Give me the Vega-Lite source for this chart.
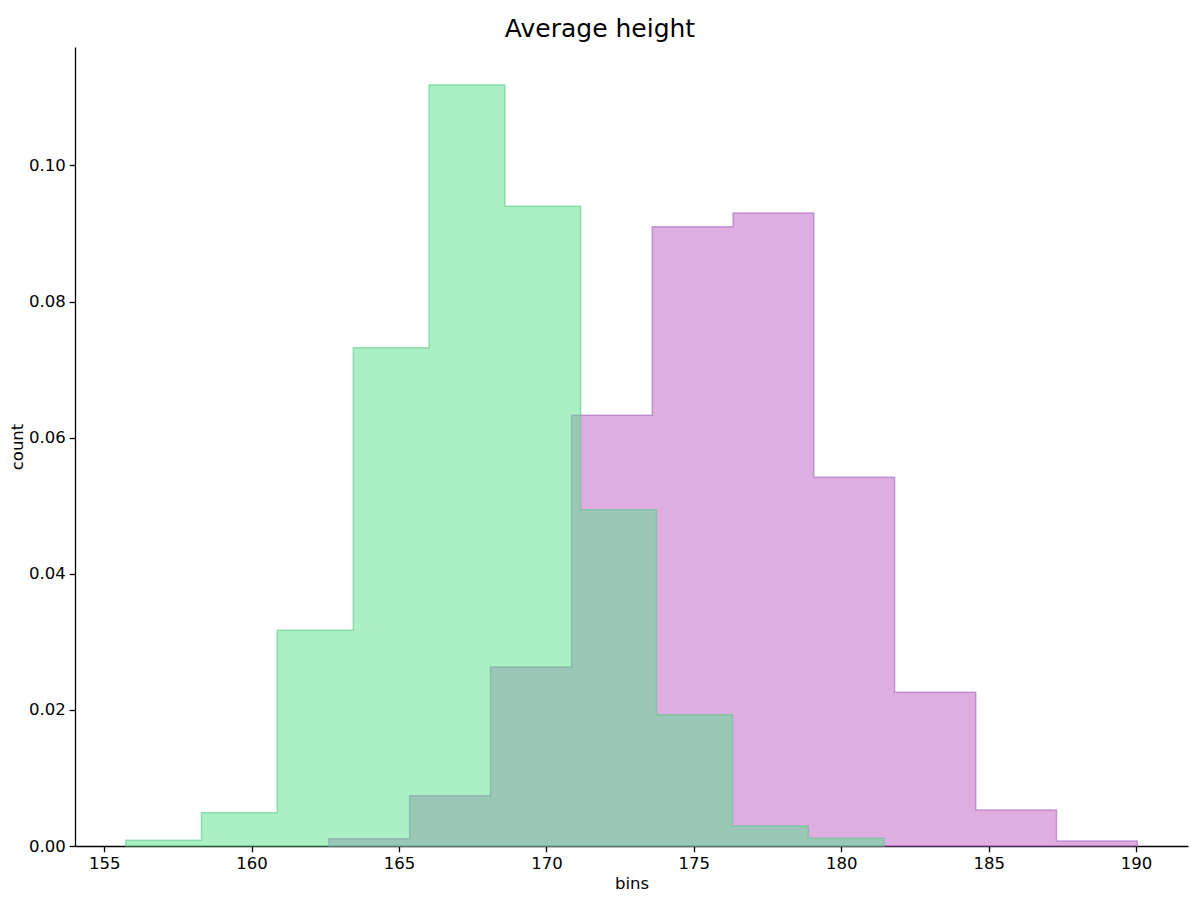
{
  "$schema": "https://vega.github.io/schema/vega-lite/v6.json",
  "width": 1113,
  "height": 799,
  "autosize": {"type": "none"},
  "padding": {"left": 75, "top": 47, "right": 12, "bottom": 54},
  "background": "white",
  "title": {
    "text": "Average height",
    "font": "DejaVu Sans",
    "fontSize": 25,
    "fontWeight": "normal",
    "color": "black",
    "anchor": "middle",
    "dx": -31.5,
    "dy": 25,
    "baseline": "alphabetic",
    "offset": 10
  },
  "datasets": {
    "male": [
      {"edge": 162.62, "density": 0.00108},
      {"edge": 165.36, "density": 0.0074},
      {"edge": 168.10, "density": 0.0263},
      {"edge": 170.85, "density": 0.0633},
      {"edge": 173.59, "density": 0.0910},
      {"edge": 176.33, "density": 0.0930},
      {"edge": 179.07, "density": 0.0542},
      {"edge": 181.81, "density": 0.0226},
      {"edge": 184.56, "density": 0.0053},
      {"edge": 187.30, "density": 0.00074},
      {"edge": 190.04, "density": 0.00074}
    ],
    "female": [
      {"edge": 155.73, "density": 0.00083},
      {"edge": 158.30, "density": 0.0049},
      {"edge": 160.87, "density": 0.0317},
      {"edge": 163.45, "density": 0.0732},
      {"edge": 166.02, "density": 0.1118},
      {"edge": 168.59, "density": 0.0940},
      {"edge": 171.16, "density": 0.0494},
      {"edge": 173.73, "density": 0.0193},
      {"edge": 176.31, "density": 0.00294},
      {"edge": 178.88, "density": 0.00115},
      {"edge": 181.45, "density": 0.00115}
    ]
  },
  "encoding": {
    "x": {
      "field": "edge",
      "type": "quantitative",
      "title": "bins",
      "scale": {"domain": [154.01, 191.76], "nice": false, "zero": false},
      "axis": {"values": [155, 160, 165, 170, 175, 180, 185, 190], "format": "d"}
    },
    "y": {
      "field": "density",
      "type": "quantitative",
      "title": "count",
      "scale": {"domain": [0, 0.1174], "nice": false},
      "axis": {"values": [0, 0.02, 0.04, 0.06, 0.08, 0.10], "format": ".2f"}
    }
  },
  "layer": [
    {
      "data": {"name": "male"},
      "mark": {
        "type": "area",
        "interpolate": "step-after",
        "fill": "#BF5DC3",
        "fillOpacity": 0.5,
        "stroke": "#A968C0",
        "strokeOpacity": 0.6,
        "strokeWidth": 1.5
      }
    },
    {
      "data": {"name": "female"},
      "mark": {
        "type": "area",
        "interpolate": "step-after",
        "fill": "#57E18B",
        "fillOpacity": 0.5,
        "stroke": "#5FC98D",
        "strokeOpacity": 0.6,
        "strokeWidth": 1.5
      }
    }
  ],
  "config": {
    "view": {"stroke": null},
    "axis": {
      "grid": false,
      "domainColor": "black",
      "domainWidth": 1.3,
      "tickColor": "black",
      "tickWidth": 1.3,
      "tickSize": 5.8,
      "labelPadding": 4,
      "labelFont": "DejaVu Sans",
      "labelFontSize": 16.5,
      "labelColor": "black",
      "titleFont": "DejaVu Sans",
      "titleFontSize": 16.5,
      "titleFontWeight": "normal",
      "titleColor": "black",
      "titlePadding": 3
    }
  }
}
